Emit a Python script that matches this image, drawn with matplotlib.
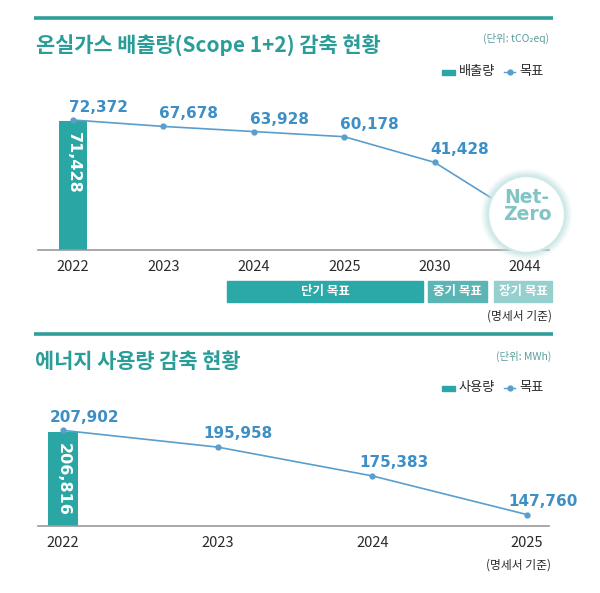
import matplotlib
matplotlib.use('Agg')
import matplotlib.pyplot as plt
from matplotlib.patches import Rectangle
from matplotlib.lines import Line2D
from matplotlib.transforms import offset_copy

plt.rcParams['font.family'] = ['Noto Sans CJK KR', 'DejaVu Sans']

# ---------------- data ----------------
ghg_title = '온실가스 배출량(Scope 1+2) 감축 현황'
ghg_unit = '(단위: tCO₂eq)'
ghg_years = ['2022', '2023', '2024', '2025', '2030', '2044']
ghg_actual_years = ['2022']
ghg_actual = [71428]
ghg_target = [72372, 67678, 63928, 60178, 41428, 0]
ghg_labeled = 5          # first five targets carry labels, 2044 is Net-Zero
ghg_legend = ['배출량', '목표']
goal_labels = ['단기 목표', '중기 목표', '장기 목표']

energy_title = '에너지 사용량 감축 현황'
energy_unit = '(단위: MWh)'
energy_years = ['2022', '2023', '2024', '2025']
energy_actual_years = ['2022']
energy_actual = [206816]
energy_target = [207902, 195958, 175383, 147760]
energy_legend = ['사용량', '목표']
basis_note = '(명세서 기준)'

# ---------------- styles ----------------
TEAL = '#2aa7a5'
TITLE_TEAL = '#2a9d99'
RULE = '#2f9e9b'
BLUE = '#3d8fc6'
LINE = '#5a9ecd'
DARK = '#2a2a2a'
GOAL_COLORS = ['#2aa9a8', '#5cb5b5', '#95d0cf']

W, H = 600, 593
fig = plt.figure(figsize=(W / 100, H / 100), dpi=100)
fig.patch.set_facecolor('white')


def fx(px):
    return px / W


def fy(py):
    return 1 - py / H


def rule(py):
    fig.add_artist(Line2D([fx(34), fx(553)], [fy(py), fy(py)], color=RULE, lw=2.6,
                          solid_capstyle='butt', transform=fig.transFigure))


def legend(py, labels):
    fig.add_artist(Rectangle((fx(442), fy(py + 2.5)), 13 / W, 5 / H, color=TEAL,
                             transform=fig.transFigure))
    fig.text(fx(459), fy(py), labels[0], va='center', ha='left', fontsize=9.5, color=DARK)
    fig.add_artist(Line2D([fx(504), fx(515)], [fy(py)] * 2, color=LINE, lw=1,
                          transform=fig.transFigure))
    fig.add_artist(Line2D([fx(509.5)], [fy(py)], marker='o', ms=3.5, color=LINE,
                          transform=fig.transFigure))
    fig.text(fx(519), fy(py), labels[1], va='center', ha='left', fontsize=9.5, color=DARK)


def style_axes(ax):
    for s in ['top', 'left', 'right']:
        ax.spines[s].set_visible(False)
    ax.spines['bottom'].set_color('#9a9a9a')
    ax.spines['bottom'].set_linewidth(1.2)
    ax.set_yticks([])
    ax.tick_params(axis='x', length=0, pad=7, labelsize=10.5, labelcolor=DARK)
    ax.set_facecolor('none')


# ================= top chart =================
rule(18)
fig.text(fx(36), fy(45), ghg_title, fontsize=15, fontweight='bold', color=TITLE_TEAL,
         va='center', ha='left')
fig.text(fx(549), fy(38), ghg_unit, fontsize=7.5, color='#5a9e9c', va='center', ha='right')
legend(72, ghg_legend)

ax1 = fig.add_axes([fx(38), fy(250), (549 - 38) / W, (250 - 100) / H])
style_axes(ax1)
Y1_LO, Y1_HI = -22519, 86970
ax1.set_xlim(-0.387, 5.265)
ax1.set_ylim(Y1_LO, Y1_HI)
x1 = list(range(len(ghg_years)))
ax1.set_xticks(x1)
ax1.set_xticklabels(ghg_years)

bx1 = [ghg_years.index(y) for y in ghg_actual_years]
ax1.bar(bx1, [v - Y1_LO for v in ghg_actual], bottom=Y1_LO, width=0.31, color=TEAL, zorder=2)
for xb, v in zip(bx1, ghg_actual):
    ax1.annotate(f'{v:,}', (xb, v), xytext=(0, -8), textcoords='offset points',
                 rotation=-90, ha='center', va='top', color='white', fontsize=11.5,
                 fontweight='bold', family='DejaVu Sans', zorder=3)

ax1.plot(x1, ghg_target, color=LINE, lw=1.2, zorder=3)
ax1.plot(x1[:ghg_labeled], ghg_target[:ghg_labeled], 'o', color=LINE, ms=3.5, zorder=3)
for xi, v in zip(x1[:ghg_labeled], ghg_target[:ghg_labeled]):
    ax1.annotate(f'{v:,}', (xi, v), xytext=(-3, 9), textcoords='offset points',
                 ha='left', va='center', color=BLUE, fontsize=11, fontweight='bold',
                 family='DejaVu Sans', zorder=4)

# Net-Zero badge at the 2044 target
nz_tr = offset_copy(ax1.transData, fig=fig, x=1, y=5, units='dots')
for s, a in [(4300, 0.15), (3900, 0.25), (3500, 0.4)]:
    ax1.scatter([x1[-1]], [ghg_target[-1]], s=s, color='#bfe2e1', alpha=a, lw=0,
                transform=nz_tr, clip_on=False, zorder=5)
ax1.scatter([x1[-1]], [ghg_target[-1]], s=3050, facecolor='white', edgecolor='#cde9e8',
            lw=1.5, transform=nz_tr, clip_on=False, zorder=6)
ax1.text(x1[-1], ghg_target[-1], 'Net-\nZero', transform=offset_copy(ax1.transData, fig=fig,
         x=2, y=13, units='dots'), ha='center', va='center', fontsize=13.5,
         fontweight='bold', color='#80c5c4', family='DejaVu Sans', linespacing=0.9,
         zorder=7)

# goal boxes
boxes = [(227, 423), (428, 487), (494, 552)]
for (l, r), lab, c in zip(boxes, goal_labels, GOAL_COLORS):
    fig.add_artist(Rectangle((fx(l), fy(302)), (r - l) / W, 21 / H, color=c,
                             transform=fig.transFigure))
    fig.text(fx((l + r) / 2), fy(291.5), lab, ha='center', va='center', color='white',
             fontsize=9, fontweight='bold')
fig.text(fx(552), fy(316), basis_note, ha='right', va='center', fontsize=8.5, color=DARK)

rule(334)

# ================= bottom chart =================
fig.text(fx(35), fy(361), energy_title, fontsize=15, fontweight='bold', color=TITLE_TEAL,
         va='center', ha='left')
fig.text(fx(551), fy(356), energy_unit, fontsize=7.5, color='#5a9e9c', va='center', ha='right')
legend(388, energy_legend)

ax2 = fig.add_axes([fx(38), fy(526), (549 - 38) / W, (526 - 380) / H])
style_axes(ax2)
Y2_LO, Y2_HI = 139608, 243894
ax2.set_xlim(-0.162, 3.142)
ax2.set_ylim(Y2_LO, Y2_HI)
x2 = list(range(len(energy_years)))
ax2.set_xticks(x2)
ax2.set_xticklabels(energy_years)

bx2 = [energy_years.index(y) for y in energy_actual_years]
ax2.bar(bx2, [v - Y2_LO for v in energy_actual], bottom=Y2_LO, width=0.194, color=TEAL,
        zorder=2)
for xb, v in zip(bx2, energy_actual):
    ax2.annotate(f'{v:,}', (xb, v), xytext=(0, -8), textcoords='offset points',
                 rotation=-90, ha='center', va='top', color='white', fontsize=11.5,
                 fontweight='bold', family='DejaVu Sans', zorder=3)

ax2.plot(x2, energy_target, color=LINE, lw=1.2, marker='o', ms=3.5, zorder=3)
label_dx = [-9.5, -10.5, -9.5, -13.5]
for xi, v, dx in zip(x2, energy_target, label_dx):
    ax2.annotate(f'{v:,}', (xi, v), xytext=(dx, 9.5), textcoords='offset points',
                 ha='left', va='center', color=BLUE, fontsize=11, fontweight='bold',
                 family='DejaVu Sans', zorder=4, annotation_clip=False)

fig.text(fx(551), fy(565), basis_note, ha='right', va='center', fontsize=8.5, color=DARK)

fig.savefig('out.png', dpi=100, facecolor='white')
